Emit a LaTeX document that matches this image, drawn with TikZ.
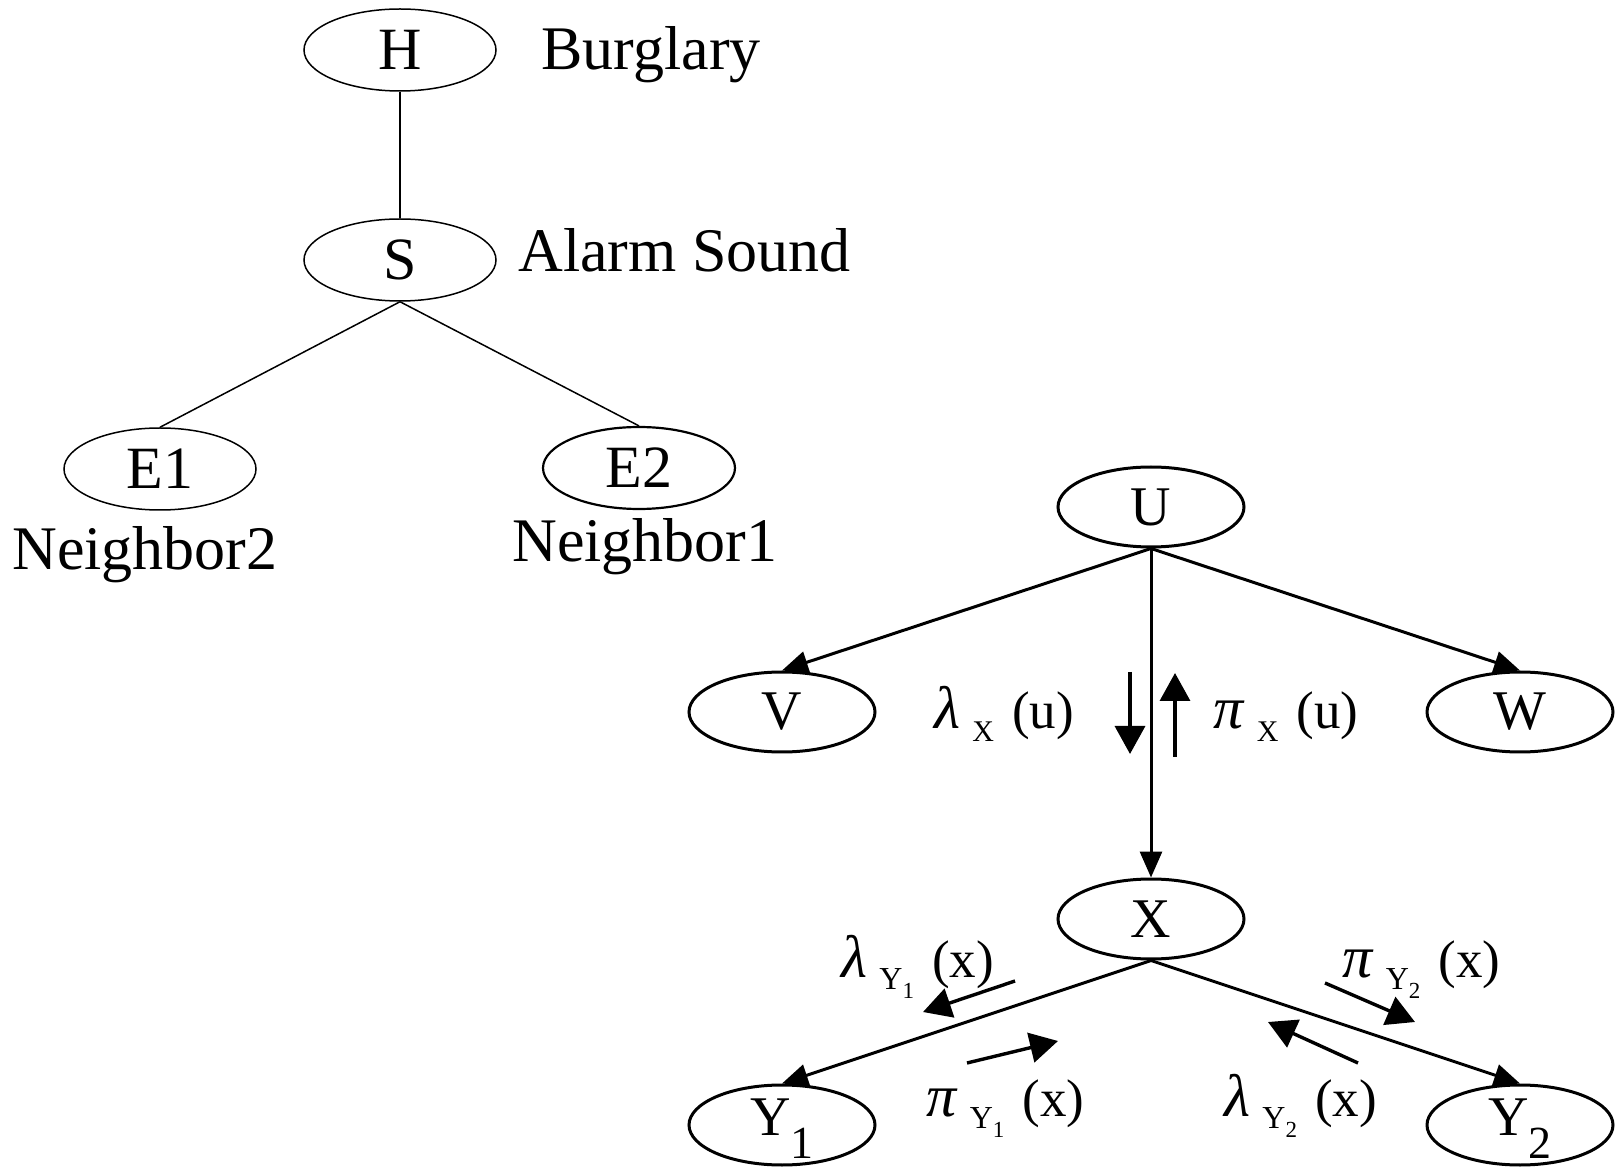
\documentclass[tikz,border=0pt]{standalone}
\usepackage{fontspec}
\setmainfont{Liberation Serif}
\usetikzlibrary{shapes.geometric, arrows.meta}

% message label: greek letter, subscript, argument
\newcommand{\msg}[3]{{\fontsize{30}{30}\selectfont\textit{#1}}\hspace{6pt}\raisebox{-6pt}{#2}\hspace{9pt}(#3)}
\newcommand{\subX}{{\fontsize{15}{15}\selectfont X}}
\newcommand{\subY}[1]{{\fontsize{16}{16}\selectfont Y\raisebox{-4.5pt}{\fontsize{11.5}{11.5}\selectfont #1}}}
\newcommand{\Yidx}[1]{Y\raisebox{-11.5pt}[0pt][0pt]{\fontsize{23}{23}\selectfont #1}}

\begin{document}
\begin{tikzpicture}[x=0.5pt, y=-0.5pt, c/.style={ellipse, draw, line width=.75pt, minimum width=96pt, minimum height=41pt, inner sep=0pt, font=\fontsize{30}{30}\selectfont}, r/.style={c, line width=1.5pt, minimum width=93pt, minimum height=40pt, font=\fontsize{28}{28}\selectfont}, t/.style={anchor=base west, inner sep=0pt, font=\fontsize{31}{31}\selectfont}, m/.style={anchor=base west, inner sep=0pt, font=\fontsize{26.5}{26.5}\selectfont}, s/.style={line width=1.5pt, -{Triangle[length=13pt, width=11pt]}}, a/.style={line width=1.7pt, -{Triangle[length=14pt, width=15pt]}}]
		\useasboundingbox (0,0) rectangle (1619,1171);

		% burglary network
		\node[c] (H) at (400,50) {H};
		\node[t] (H_label) at (541,70) {Burglary};
		\node[c] (S) at (400,260) {S};
		\node[t] (S_label) at (518,272) {Alarm Sound};
		\node[c] (E1) at (160,469) {E1};
		\node[t] (E1_label) at (12,570) {Neighbor2};
		\node[c, line width=1.1pt] (E2) at (639,468) {E2};
		\node[t] (E2_label) at (512,562) {Neighbor1};

		\path[line width=.75pt] (H) edge (S);
		\path[line width=.75pt] (S.south) edge (E1.north);
		\path[line width=.75pt] (S.south) edge (E2.north);

		% message passing around X
		\node[r] (U) at (1151,507) {U};
		\node[r] (V) at (782,712) {V};
		\node[r] (W) at (1520,712) {W};
		\node[r] (X) at (1151,919) {X};
		\node[r, text depth=8pt] (Y1) at (782,1125) {\Yidx{1}};
		\node[r, text depth=8pt] (Y2) at (1520,1125) {\Yidx{2}};

		\path[s] (U.south) edge (V.north);
		\path[s] (U.south) edge (W.north);
		\path[s] (U.south) edge (X.north);
		\path[s] (X.south) edge (Y1.north);
		\path[s] (X.south) edge (Y2.north);

		\coordinate (lx_a) at (1130,672);
		\coordinate (lx_b) at (1130,754);
		\coordinate (px_a) at (1175,757);
		\coordinate (px_b) at (1175,673);
		\coordinate (ly1_a) at (1015,981);
		\coordinate (ly1_b) at (923,1012);
		\coordinate (py1_a) at (967,1063);
		\coordinate (py1_b) at (1058,1041);
		\coordinate (ly2_a) at (1358,1063);
		\coordinate (ly2_b) at (1268,1022);
		\coordinate (py2_a) at (1325,983);
		\coordinate (py2_b) at (1415,1022);

		\draw[a] (lx_a) -- (lx_b);
		\draw[a] (px_a) -- (px_b);
		\draw[a] (ly1_a) -- (ly1_b);
		\draw[a] (py1_a) -- (py1_b);
		\draw[a] (ly2_a) -- (ly2_b);
		\draw[a] (py2_a) -- (py2_b);

		\node[m] (lx) at (934,729) {\msg{λ}{\subX}{u}};
		\node[m] (px) at (1213,729) {\msg{π}{\subX}{u}};
		\node[m] (ly1) at (841,977) {\msg{λ}{\subY{1}}{x}};
		\node[m] (py1) at (926,1116) {\msg{π}{\subY{1}}{x}};
		\node[m] (ly2) at (1224,1116) {\msg{λ}{\subY{2}}{x}};
		\node[m] (py2) at (1342,977) {\msg{π}{\subY{2}}{x}};
	\end{tikzpicture}
\end{document}
